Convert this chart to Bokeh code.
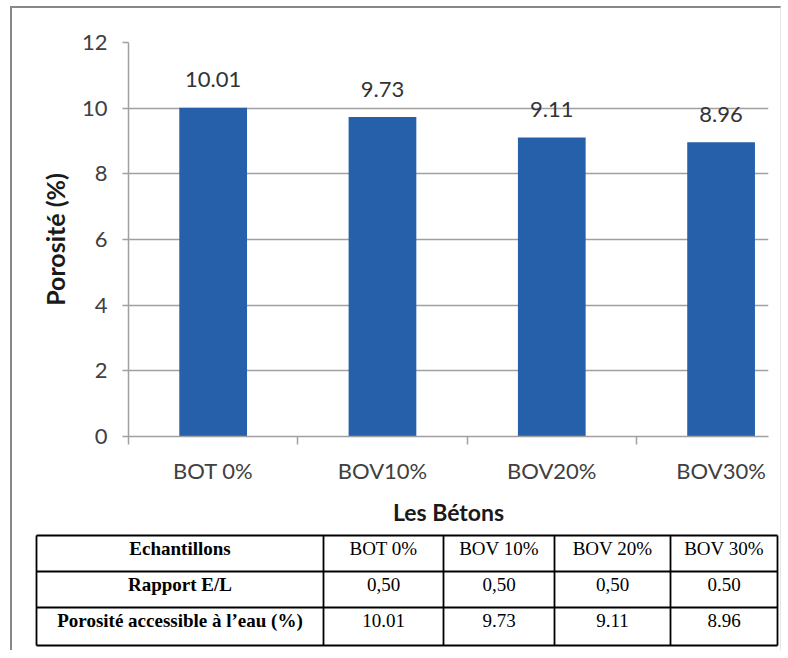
from bokeh.plotting import figure
from bokeh.models import Range1d, FixedTicker
from bokeh.layouts import column
from bokeh.core.properties import value
from bokeh.embed import file_html
from bokeh.resources import INLINE

# ---------------- data ----------------
categories = ["BOT 0%", "BOV10%", "BOV20%", "BOV30%"]
porosity = [10.01, 9.73, 9.11, 8.96]
y_ticks = [0, 2, 4, 6, 8, 10, 12]

table_header = ["Echantillons", "BOT 0%", "BOV 10%", "BOV 20%", "BOV 30%"]
ratio_label = "Rapport E/L"
ratio_values = ["0,50", "0,50", "0,50", "0.50"]
porosity_label = "Porosité accessible à l’eau (%)"
porosity_table = ["10.01", "9.73", "9.11", "8.96"]

# ---------------- styles ----------------
BAR = "#2760aa"
GRID = "#a0a0a0"
CHART_FONT = "Lato"
TABLE_FONT = "Liberation Serif"

positions = [i + 0.5 for i in range(len(categories))]

p = figure(width=768, height=520,
           x_range=Range1d(0, 3.78), y_range=Range1d(0, 12),
           output_backend="svg", toolbar_location=None,
           min_border_left=116, min_border_right=12,
           min_border_top=34, min_border_bottom=92)
p.frame_align = False
p.outline_line_color = None
p.background_fill_color = "white"
p.border_fill_color = "white"

p.vbar(x=positions, top=porosity, width=0.40, fill_color=BAR, line_color=None)
p.text(x=positions, y=porosity, text=[f"{v:.2f}" for v in porosity],
       text_align="center", text_baseline="alphabetic", y_offset=-28,
       text_font=value(CHART_FONT), text_font_size="22px", text_color="#333333")

# x axis
p.xgrid.visible = False
p.xaxis.ticker = FixedTicker(ticks=positions, minor_ticks=list(range(len(categories))))
p.xaxis.major_label_overrides = {pos: cat for pos, cat in zip(positions, categories)}
p.xaxis.major_tick_out = 0
p.xaxis.major_tick_in = 0
p.xaxis.minor_tick_out = 8
p.xaxis.minor_tick_in = 0
p.xaxis.minor_tick_line_color = GRID
p.xaxis.minor_tick_line_width = 1.5
p.xaxis.axis_line_color = GRID
p.xaxis.axis_line_width = 1.5
p.xaxis.major_label_text_font = CHART_FONT
p.xaxis.major_label_text_font_size = "22px"
p.xaxis.major_label_text_color = "#404040"
p.xaxis.major_label_standoff = 12
p.xaxis.axis_label = "Les Bétons"
p.xaxis.axis_label_text_font = CHART_FONT
p.xaxis.axis_label_text_font_size = "23px"
p.xaxis.axis_label_text_font_style = "bold"
p.xaxis.axis_label_text_color = "#1a1a1a"
p.xaxis.axis_label_standoff = 11

# y axis
p.yaxis.ticker = FixedTicker(ticks=y_ticks)
p.yaxis.major_tick_out = 6
p.yaxis.major_tick_in = 0
p.yaxis.minor_tick_line_color = None
p.yaxis.major_tick_line_color = GRID
p.yaxis.major_tick_line_width = 1.5
p.yaxis.axis_line_color = GRID
p.yaxis.axis_line_width = 1.5
p.yaxis.major_label_text_font = CHART_FONT
p.yaxis.major_label_text_font_size = "22px"
p.yaxis.major_label_text_color = "#404040"
p.yaxis.major_label_standoff = 15
p.yaxis.axis_label = "Porosité (%)"
p.yaxis.axis_label_text_font = CHART_FONT
p.yaxis.axis_label_text_font_size = "25px"
p.yaxis.axis_label_text_font_style = "bold"
p.yaxis.axis_label_text_color = "#1a1a1a"
p.yaxis.axis_label_standoff = 9
p.ygrid.ticker = FixedTicker(ticks=y_ticks)
p.ygrid.grid_line_color = GRID
p.ygrid.grid_line_width = 1.5

# ---------------- table ----------------
col_x = [24, 311, 431, 542, 658, 765]
row_y = [7, 43, 79, 117]

t = figure(width=768, height=122,
           x_range=Range1d(0, 768), y_range=Range1d(122, 0),
           output_backend="svg", toolbar_location=None,
           x_axis_location=None, y_axis_location=None, min_border=0)
t.frame_align = False
t.outline_line_color = None
t.xgrid.visible = False
t.ygrid.visible = False

t.segment(x0=[col_x[0]] * len(row_y), x1=[col_x[-1]] * len(row_y),
          y0=row_y, y1=row_y, line_color="black", line_width=1.8)
t.segment(x0=col_x, x1=col_x, y0=[row_y[0]] * len(col_x), y1=[row_y[-1]] * len(col_x),
          line_color="black", line_width=1.8)

rows = [table_header,
        [ratio_label] + ratio_values,
        [porosity_label] + porosity_table]
for r, cells in enumerate(rows):
    yc = row_y[r] + 13
    xs = [(col_x[c] + col_x[c + 1]) / 2 for c in range(len(cells))]
    t.text(x=xs[:1], y=[yc], text=cells[:1], text_align="center", text_baseline="middle",
           text_font=value(TABLE_FONT), text_font_size="19px", text_font_style="bold",
           text_color="black")
    t.text(x=xs[1:], y=[yc] * (len(cells) - 1), text=cells[1:], text_align="center",
           text_baseline="middle", text_font=value(TABLE_FONT), text_font_size="19px",
           text_color="black")

layout = column(p, t, styles={"margin-left": "10px", "margin-top": "6px",
                              "border-top": "2px solid #888888",
                              "border-left": "2px solid #888888",
                              "border-right": "1px solid #e6e6e6",
                              "background-color": "white"})

open("out.html", "w").write(file_html(layout, INLINE))
